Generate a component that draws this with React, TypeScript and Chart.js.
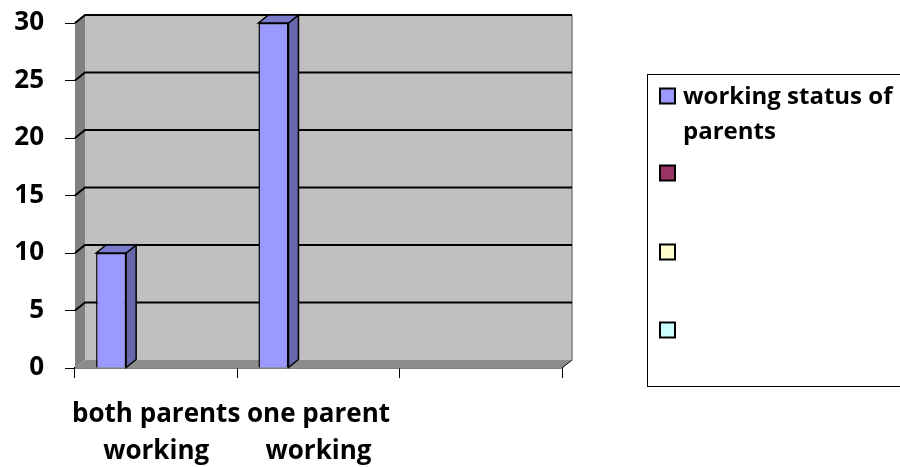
import React, { useEffect, useRef } from "react";
import { Chart, registerables } from "chart.js";

Chart.register(...registerables);

const categories: (string | string[])[] = [["both parents", "working"], ["one parent", "working"], ""];
const seriesNames = ["working status of parents", "", "", ""];
const seriesValues: (number | null)[][] = [
  [10, 30, null],
  [null, null, null],
  [null, null, null],
  [null, null, null],
];
const seriesColors = ["#9999FF", "#993366", "#FFFFCC", "#CCFFFF"];
const yTicks = { min: 0, max: 30, step: 5 };

const FONT = "'Open Sans'";
const AXIS_SIZE = 26;
const LEGEND_SIZE = 24;
const DX = 10;
const DY = 8;

function shade(hex: string, f: number) {
  const n = parseInt(hex.slice(1), 16);
  const r = Math.round(((n >> 16) & 255) * f);
  const g = Math.round(((n >> 8) & 255) * f);
  const b = Math.round((n & 255) * f);
  return `rgb(${r},${g},${b})`;
}

const threeD = {
  id: "threeD",
  beforeDatasetsDraw(chart: any) {
    const { ctx, chartArea } = chart;
    const { left, right, top, bottom } = chartArea;
    const y = chart.scales.y;
    ctx.save();
    ctx.fillStyle = "#C0C0C0";
    ctx.fillRect(left + DX, top - DY, right - left, bottom - top);
    ctx.strokeStyle = "#808080";
    ctx.lineWidth = 1.5;
    ctx.beginPath();
    ctx.moveTo(right + DX, top - DY);
    ctx.lineTo(right + DX, bottom - DY);
    ctx.stroke();
    ctx.fillStyle = "#808080";
    ctx.beginPath();
    ctx.moveTo(left, top);
    ctx.lineTo(left + DX, top - DY);
    ctx.lineTo(left + DX, bottom - DY);
    ctx.lineTo(left, bottom);
    ctx.closePath();
    ctx.fill();
    ctx.fillStyle = "#8C8C8C";
    ctx.beginPath();
    ctx.moveTo(left, bottom);
    ctx.lineTo(left + DX, bottom - DY);
    ctx.lineTo(right + DX, bottom - DY);
    ctx.lineTo(right, bottom);
    ctx.closePath();
    ctx.fill();
    ctx.strokeStyle = "#000";
    ctx.lineWidth = 1;
    ctx.beginPath();
    ctx.moveTo(right, bottom);
    ctx.lineTo(right + DX, bottom - DY);
    ctx.stroke();
    ctx.strokeStyle = "#000";
    ctx.lineWidth = 2;
    y.ticks.forEach((t: any) => {
      if (t.value === 0) return;
      const py = y.getPixelForValue(t.value);
      ctx.beginPath();
      ctx.moveTo(left, py);
      ctx.lineTo(left + DX, py - DY);
      ctx.lineTo(right + DX, py - DY);
      ctx.stroke();
    });
    ctx.restore();
  },
  afterDatasetsDraw(chart: any) {
    const { ctx } = chart;
    ctx.save();
    chart.data.datasets.forEach((ds: any, i: number) => {
      const meta = chart.getDatasetMeta(i);
      meta.data.forEach((bar: any, j: number) => {
        if (ds.data[j] == null) return;
        const { x, y, base, width } = bar.getProps(["x", "y", "base", "width"], true);
        const l = x - width / 2;
        const r = x + width / 2;
        ctx.lineWidth = 1.5;
        ctx.strokeStyle = "#000";
        ctx.fillStyle = shade(seriesColors[i], 0.67);
        ctx.beginPath();
        ctx.moveTo(r, y);
        ctx.lineTo(r + DX, y - DY);
        ctx.lineTo(r + DX, base - DY);
        ctx.lineTo(r, base);
        ctx.closePath();
        ctx.fill();
        ctx.stroke();
        ctx.fillStyle = shade(seriesColors[i], 0.8);
        ctx.beginPath();
        ctx.moveTo(l, y);
        ctx.lineTo(l + DX, y - DY);
        ctx.lineTo(r + DX, y - DY);
        ctx.lineTo(r, y);
        ctx.closePath();
        ctx.fill();
        ctx.stroke();
      });
    });
    ctx.restore();
  },
  afterDraw(chart: any) {
    const { ctx } = chart;
    ctx.save();
    const bx = 647.5, by = 74.5, bw = 270, bh = 312;
    ctx.strokeStyle = "#000";
    ctx.lineWidth = 1;
    ctx.strokeRect(bx, by, bw, bh);
    const centers = [96, 173, 252, 330];
    ctx.font = `bold ${LEGEND_SIZE}px ${FONT}`;
    ctx.textBaseline = "middle";
    chart.data.datasets.forEach((ds: any, i: number) => {
      const cy = centers[i];
      ctx.fillStyle = seriesColors[i];
      ctx.fillRect(660, cy - 7.5, 15, 15);
      ctx.strokeStyle = "#000";
      ctx.lineWidth = 2;
      ctx.strokeRect(660, cy - 7.5, 15, 15);
      const words = String(ds.label || "").split(" ").filter(Boolean);
      const lines: string[] = [];
      let cur = "";
      words.forEach((w: string) => {
        const test = cur ? cur + " " + w : w;
        if (ctx.measureText(test).width > 220 && cur) {
          lines.push(cur);
          cur = w;
        } else cur = test;
      });
      if (cur) lines.push(cur);
      ctx.fillStyle = "#000";
      lines.forEach((ln, k) => ctx.fillText(ln, 683, cy + 1 + k * 35));
    });
    ctx.restore();
  },
};

export default function App() {
  const ref = useRef<HTMLCanvasElement | null>(null);
  useEffect(() => {
    document.body.style.margin = "0";
    const chart = new Chart(ref.current as HTMLCanvasElement, {
      type: "bar",
      data: {
        labels: categories,
        datasets: seriesValues.map((vals, i) => ({
          label: seriesNames[i],
          data: vals,
          backgroundColor: seriesColors[i],
          borderColor: "#000",
          borderWidth: 1.5,
          categoryPercentage: 0.74,
          barPercentage: 1,
        })),
      },
      options: {
        animation: false,
        responsive: false,
        maintainAspectRatio: false,
        layout: { padding: { top: 23, right: 338, left: 0, bottom: 0 } },
        plugins: { legend: { display: false }, tooltip: { enabled: false } },
        scales: {
          x: {
            offset: true,
            grid: { offset: true, drawOnChartArea: false, color: "#000", tickLength: 10, lineWidth: 1 },
            border: { display: true, color: "#000", width: 1.5 },
            ticks: {
              autoSkip: false,
              maxRotation: 0,
              minRotation: 0,
              color: "#000",
              padding: 18,
              font: { family: FONT, weight: "bold", size: AXIS_SIZE, lineHeight: 1.42 },
            },
            afterFit: (s: any) => {
              s.height = 99;
              s.paddingLeft = 0;
              s.paddingRight = 0;
            },
          },
          y: {
            min: yTicks.min,
            max: yTicks.max,
            ticks: {
              stepSize: yTicks.step,
              color: "#000",
              padding: 21,
              font: { family: FONT, weight: "bold", size: AXIS_SIZE },
            },
            grid: { drawOnChartArea: false, color: "#000", tickLength: 10, lineWidth: 1 },
            border: { display: false },
            afterFit: (s: any) => {
              s.width = 75;
              s.paddingTop = 0;
              s.paddingBottom = 0;
            },
          },
        },
      },
      plugins: [threeD],
    });
    return () => chart.destroy();
  }, []);
  return (
    <div style={{ position: "fixed", left: 0, top: 0, width: 900, height: 467, background: "#fff" }}>
      <canvas ref={ref} width={900} height={467} style={{ width: 900, height: 467 }} />
    </div>
  );
}
